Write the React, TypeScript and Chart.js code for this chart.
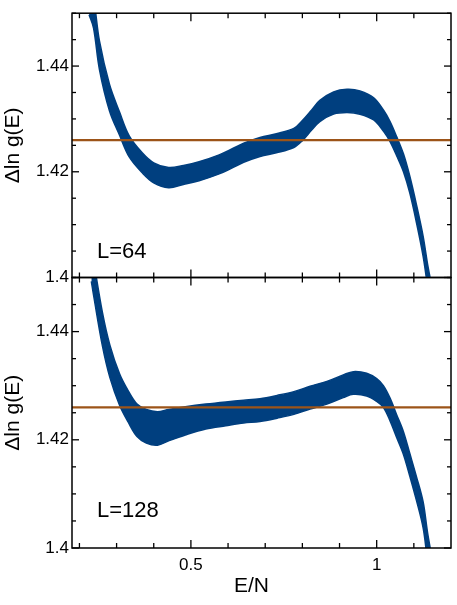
import React, { useEffect, useRef } from 'react';
import { Chart, registerables } from 'chart.js';

Chart.register(...registerables);

// ---- data ----
// L = 64 panel: centre of the scatter band and its half-thickness
const xL64 = [0.226, 0.238, 0.254, 0.281, 0.308, 0.334, 0.369, 0.40,
  0.44, 0.48, 0.522, 0.576, 0.61, 0.642, 0.686, 0.73, 0.777, 0.80, 0.825,
  0.847, 0.884, 0.92, 0.955, 0.992, 1.019, 1.036, 1.054, 1.072, 1.089,
  1.107, 1.125, 1.138, 1.15];
const yL64 = [1.4525, 1.450, 1.442, 1.434, 1.4291, 1.4248, 1.4217, 1.4198,
  1.4189, 1.4194, 1.4201, 1.4214, 1.4225, 1.4236, 1.4247, 1.4254, 1.4264, 1.4278, 1.4298,
  1.4315, 1.4330, 1.4334, 1.4331, 1.4319, 1.4296, 1.4276, 1.4248, 1.4217, 1.4176,
  1.4121, 1.4059, 1.400, 1.3955];
const sL64 = [0.0028, 0.0028, 0.0027, 0.0025, 0.0022, 0.002, 0.0019, 0.0019,
  0.0019, 0.0018, 0.0018, 0.0018, 0.0018, 0.0018, 0.0018, 0.0018, 0.0018, 0.0019, 0.0019,
  0.002, 0.0021, 0.0022, 0.0022, 0.0021, 0.002, 0.0019, 0.0018, 0.0017, 0.0016,
  0.0017, 0.0019, 0.0021, 0.0023];

// L = 128 panel
const xL128 = [0.232, 0.2386, 0.262, 0.282, 0.308, 0.331, 0.355, 0.38, 0.41,
  0.44, 0.485, 0.54, 0.594, 0.642, 0.686, 0.732, 0.777, 0.821, 0.866,
  0.91, 0.937, 0.973, 1.0, 1.018, 1.036, 1.054, 1.072, 1.089, 1.107,
  1.125, 1.137, 1.15];
const yL128 = [1.4525, 1.4497, 1.4404, 1.4345, 1.4293, 1.4262, 1.4236, 1.4225, 1.4221,
  1.4227, 1.4235, 1.4243, 1.4248, 1.4252, 1.4255, 1.4261, 1.4268, 1.4278, 1.4287,
  1.4299, 1.4305, 1.4302, 1.4292, 1.4280, 1.4256, 1.4225, 1.4194, 1.4154, 1.4110,
  1.4061, 1.4002, 1.395];
const sL128 = [0.0032, 0.0032, 0.0031, 0.003, 0.0029, 0.0029, 0.003, 0.0031, 0.0031,
  0.0029, 0.0026, 0.0023, 0.0022, 0.0021, 0.0021, 0.0021, 0.0021, 0.0021, 0.0021,
  0.0021, 0.0021, 0.0021, 0.0021, 0.002, 0.0021, 0.0021, 0.0021, 0.0021, 0.0022,
  0.0024, 0.0026, 0.0027];

const refLevel = 1.426;
const xRange = [0.18, 1.2];
const yRange = [1.4, 1.45];
const xTickValues = [0.2, 0.3, 0.4, 0.5, 0.6, 0.7, 0.8, 0.9, 1.0, 1.1];
const xTickLabels = [0.5, 1];
const yTickValues = [1.4, 1.405, 1.41, 1.415, 1.42, 1.425, 1.43, 1.435, 1.44, 1.445, 1.45];
const yTickLabels = [1.4, 1.42, 1.44];
const panelNames = ['L=64', 'L=128'];
const xTitle = 'E/N';
const yTitle = 'Δln g(E)';

const BLUE = '#003f7f';
const BROWN = '#9c5418';
const FONT = "'Liberation Sans', Arial, Helvetica, sans-serif";

const near = (a: number, b: number) => Math.abs(a - b) < 1e-9;

const framePlugin = {
  id: 'frameTicks',
  afterDraw(chart: any) {
    const opts = chart.options.plugins.frameTicks;
    const { ctx, chartArea } = chart;
    const { left, right, top, bottom } = chartArea;
    const xs = chart.scales.x;
    const ys = chart.scales.y;
    ctx.save();
    ctx.strokeStyle = '#000';
    ctx.lineWidth = 1.3;
    const seg = (x1: number, y1: number, x2: number, y2: number) => {
      ctx.beginPath();
      ctx.moveTo(x1, y1);
      ctx.lineTo(x2, y2);
      ctx.stroke();
    };
    for (const v of yTickValues) {
      const py = ys.getPixelForValue(v);
      const major = yTickLabels.some((l) => near(l, v));
      const len = major ? 7 : 4;
      seg(left, py, left + len, py);
      seg(right, py, right - len, py);
    }
    for (const v of xTickValues) {
      const px = xs.getPixelForValue(v);
      const major = xTickLabels.some((l) => near(l, v));
      const len = major ? 8 : 5;
      seg(px, bottom, px, bottom - len);
      seg(px, top, px, top + len);
    }
    ctx.lineWidth = 1.5;
    ctx.strokeRect(left, top, right - left, bottom - top);
    ctx.fillStyle = '#000';
    ctx.textBaseline = 'alphabetic';
    ctx.textAlign = 'left';
    ctx.font = `22px ${FONT}`;
    ctx.fillText(opts.label, left + 25, bottom - opts.labelLift);
    if (opts.showXTitle) {
      ctx.textAlign = 'center';
      ctx.font = `21px ${FONT}`;
      ctx.fillText(xTitle, (left + right) / 2 - 10, 592);
    }
    ctx.restore();
  },
};

function makeConfig(xs: number[], ys: number[], ss: number[], idx: number, isBottom: boolean): any {
  const lower = xs.map((x, i) => ({ x, y: ys[i] - ss[i] }));
  const upper = xs.map((x, i) => ({ x, y: ys[i] + ss[i] }));
  const ref = [{ x: xRange[0], y: refLevel }, { x: xRange[1], y: refLevel }];
  return {
    type: 'line',
    data: {
      datasets: [
        {
          data: lower, borderColor: BLUE, borderWidth: 1.5, pointRadius: 0,
          fill: false, tension: 0.35, clip: 0, order: 2,
        },
        {
          data: upper, borderColor: BLUE, borderWidth: 1.5, pointRadius: 0,
          backgroundColor: BLUE, fill: '-1', tension: 0.35, clip: 0, order: 1,
        },
        {
          data: ref, borderColor: BROWN, borderWidth: 2.2, pointRadius: 0,
          fill: false, clip: 0, order: 0,
        },
      ],
    },
    options: {
      animation: false,
      responsive: false,
      maintainAspectRatio: false,
      events: [],
      layout: {
        padding: isBottom
          ? { top: 277.5, right: 6, bottom: 0, left: 0 }
          : { top: 6, right: 6, bottom: 327.5, left: 0 },
      },
      plugins: {
        legend: { display: false },
        tooltip: { enabled: false },
        frameTicks: { label: panelNames[idx], labelLift: isBottom ? 31 : 20, showXTitle: isBottom },
      },
      scales: {
        x: {
          type: 'linear',
          min: xRange[0],
          max: xRange[1],
          display: isBottom,
          afterBuildTicks: (s: any) => { s.ticks = xTickValues.map((value) => ({ value })); },
          afterFit: (s: any) => { s.height = isBottom ? 57 : 0; },
          grid: { display: false, drawTicks: false },
          border: { display: false },
          ticks: {
            autoSkip: false,
            maxRotation: 0,
            padding: 7,
            color: '#000',
            font: { family: FONT, size: 17 },
            callback: (v: number) => {
              const l = xTickLabels.find((t) => near(t, v));
              return l === undefined ? '' : String(l);
            },
          },
        },
        y: {
          type: 'linear',
          min: yRange[0],
          max: yRange[1],
          afterBuildTicks: (s: any) => { s.ticks = yTickValues.map((value) => ({ value })); },
          afterFit: (s: any) => { s.width = 72; },
          grid: { display: false, drawTicks: false },
          border: { display: false },
          ticks: {
            autoSkip: false,
            padding: 3,
            color: '#000',
            font: { family: FONT, size: 17 },
            callback: (v: number) => {
              const l = yTickLabels.find((t) => near(t, v));
              return l === undefined ? '' : String(l);
            },
          },
          title: {
            display: true,
            text: yTitle,
            color: '#000',
            font: { family: FONT, size: 21 },
            padding: { top: 1, bottom: 0 },
          },
        },
      },
    },
    plugins: [framePlugin],
  };
}

export default function App() {
  const topRef = useRef<HTMLCanvasElement | null>(null);
  const botRef = useRef<HTMLCanvasElement | null>(null);

  useEffect(() => {
    const c1 = new Chart(topRef.current as HTMLCanvasElement, makeConfig(xL64, yL64, sL64, 0, false));
    const c2 = new Chart(botRef.current as HTMLCanvasElement, makeConfig(xL128, yL128, sL128, 1, true));
    return () => {
      c1.destroy();
      c2.destroy();
    };
  }, []);

  const cstyle: React.CSSProperties = { position: 'absolute', left: 0, top: 0, width: 457, height: 605 };
  return (
    <div style={{ position: 'absolute', left: 0, top: 0, width: 457, height: 605, background: '#fff' }}>
      <canvas ref={botRef} width={457} height={605} style={cstyle} />
      <canvas ref={topRef} width={457} height={605} style={cstyle} />
    </div>
  );
}
